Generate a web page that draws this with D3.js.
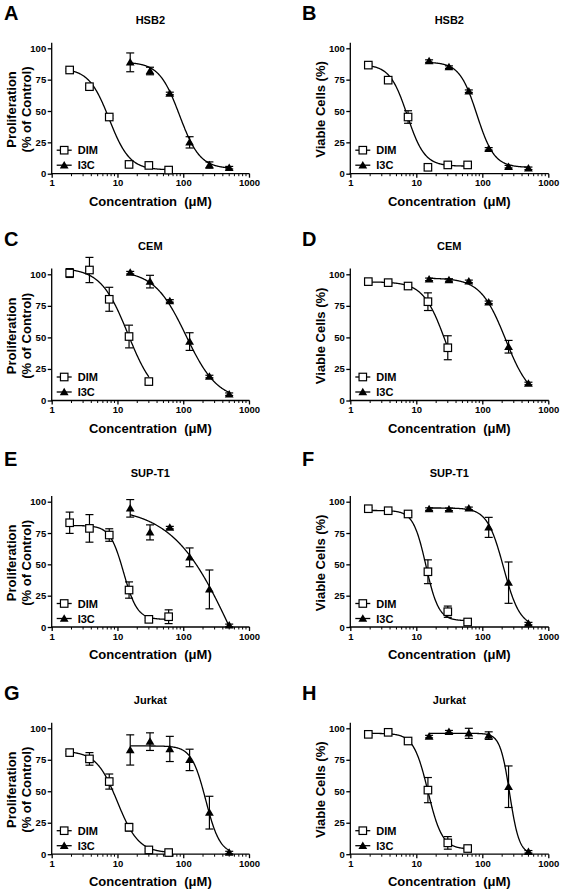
<!DOCTYPE html>
<html><head><meta charset="utf-8">
<script src="https://cdn.jsdelivr.net/npm/d3@7"></script>
<style>
body{margin:0;background:#fff}
svg text{font-family:"Liberation Sans",Arial,sans-serif;font-weight:bold;fill:#000;white-space:pre}
</style>
</head><body>
<svg id="chart" width="563" height="892"></svg>
<script>
// ---------------- DATA ----------------
const panelLetters = ["A","B","C","D","E","F","G","H"];
const cellLines = ["HSB2","HSB2","CEM","CEM","SUP-T1","SUP-T1","Jurkat","Jurkat"];
const yTitleProlif = ["Proliferation","(% of Control)"];
const yTitleViable = ["Viable Cells (%)"];
const xTitle = "Concentration  (\u03BCM)";
const seriesNames = ["DIM","I3C"];
const xTickValues = [1,10,100,1000];
const yTickValues = [0,25,50,75,100];

const concDIM = [1.875, 3.75, 7.5, 15, 30, 60];
const concI3C = [15.625, 31.25, 62.5, 125, 250, 500];

// DIM means / SD per panel
const dimA = [82.7, 69.4, 45.2, 7.4, 6.6, 2.9];   const dimAErr = [1, 1, 1, 1, 1, 1];
const dimB = [86.6, 74.6, 45.2, 5.1, 7.0, 7.0];   const dimBErr = [1, 1, 5, 1, 1, 1];
const dimC = [101, 103.4, 80.2, 50.7, 15.0];      const dimCErr = [3.5, 10, 9.5, 9, 2];
const dimD = [94.2, 93.4, 90.7, 78.3, 41.8];      const dimDErr = [1, 1, 1, 7, 9.5];
const dimE = [83.2, 78.7, 73.4, 29.5, 6.1, 8.2];  const dimEErr = [8.5, 11, 5, 6.5, 1, 5.5];
const dimF = [94.4, 92.8, 90.2, 44.1, 12.2, 4.0]; const dimFErr = [1, 1, 1, 9.5, 4.5, 1];
const dimG = [80.7, 75.7, 57.7, 21.4, 3.4, 1.3];  const dimGErr = [1, 5, 6, 3, 1, 1];
const dimH = [95.2, 96.8, 89.9, 50.9, 9.0, 4.5];  const dimHErr = [1, 1, 1, 10, 5, 1];

// I3C means / SD per panel
const i3cA = [88.8, 81.9, 64.0, 25.0, 6.9, 4.8];  const i3cAErr = [7.5, 3, 1, 4.5, 2.5, 1];
const i3cB = [89.8, 85.0, 65.8, 19.8, 5.6, 4.3];  const i3cBErr = [1, 1, 1, 1, 1, 1];
const i3cC = [101.3, 94.2, 78.9, 46.7, 19.0, 5.0];const i3cCErr = [1, 5, 1, 7, 1, 1];
const i3cD = [96.0, 95.5, 94.4, 77.8, 42.6, 13.5];const i3cDErr = [1, 1, 1, 1, 5, 1];
const i3cE = [94.7, 75.5, 79.3, 55.6, 30.0, 1.3]; const i3cEErr = [7, 6, 1, 7.5, 15.5, 1];
const i3cF = [94.1, 93.9, 94.7, 79.5, 35.4, 2.7]; const i3cFErr = [1, 1, 1, 8, 16.5, 1];
const i3cG = [82.8, 89.4, 83.6, 74.9, 33.0, 1.3]; const i3cGErr = [12, 7, 10, 8.5, 13, 1];
const i3cH = [93.4, 97.3, 96.0, 94.2, 53.6, 1.9]; const i3cHErr = [1, 1, 4, 3, 16.5, 1];

// Fitted dose-response curve parameters [top, bottom, IC50, hill]
const dimFit = [[84,3,7.5,2.8],[87,6,7.3,3.3],[105,0,14.5,2.1],[94,0,27.6,2.6],
                [81,6,12.4,4.2],[93,5,14,4.5],[82,1,10,2.7],[96,4,15,4]];
const i3cFit = [[89,4,88,2.8],[89,5,83,3.3],[103,0,110,1.8],[97,0,225,2.3],
                [96,-110,583,0.95],[95,0,210,3.5],[86,0,220,4],[96,0,260,6]];

const dimMeans = [dimA,dimB,dimC,dimD,dimE,dimF,dimG,dimH];
const dimErrs  = [dimAErr,dimBErr,dimCErr,dimDErr,dimEErr,dimFErr,dimGErr,dimHErr];
const i3cMeans = [i3cA,i3cB,i3cC,i3cD,i3cE,i3cF,i3cG,i3cH];
const i3cErrs  = [i3cAErr,i3cBErr,i3cCErr,i3cDErr,i3cEErr,i3cFErr,i3cGErr,i3cHErr];

// ---------------- LAYOUT ----------------
const colX0 = [51.7, 350.3], colX1 = [249, 548.3];
const rowY100 = [48.3, 274.3, 501.7, 728.3], rowY0 = [173.7, 400.5, 627, 854.2];
const letterY = [20, 246, 466, 700];
const letterX = [4, 302];

const svg = d3.select("#chart");
const logistic = (p, c) => p[1] + (p[0]-p[1]) / (1 + Math.pow(c/p[2], p[3]));

for (let i = 0; i < 8; i++) {
  const col = i % 2, row = Math.floor(i/2);
  const x = d3.scaleLog().domain([1,1000]).range([colX0[col], colX1[col]]);
  const y = d3.scaleLinear().domain([0,100]).range([rowY0[row], rowY100[row]]);
  const g = svg.append("g");
  const sw = 1.3;

  // panel letter & title
  g.append("text").attr("x", letterX[col]).attr("y", letterY[row])
    .style("font-size","20px").text(panelLetters[i]);
  g.append("text").attr("x", (x.range()[0]+x.range()[1])/2).attr("y", rowY100[row]-24.5)
    .attr("text-anchor","middle").style("font-size","11px").text(cellLines[i]);

  // y axis
  const ya = g.append("g").attr("transform",`translate(${x(1)},0)`)
    .call(d3.axisLeft(y).tickValues(yTickValues).tickSize(4).tickPadding(1.5));
  ya.select(".domain").remove();
  ya.selectAll(".tick line").attr("stroke","#000").attr("stroke-width",sw);
  ya.selectAll(".tick text").style("font-size","9.5px").style("font-family","'Liberation Sans',Arial,sans-serif").style("font-weight","bold");
  g.append("line").attr("x1",x(1)).attr("x2",x(1)).attr("y1",y(0)+sw/2).attr("y2",y(104.5))
    .attr("stroke","#000").attr("stroke-width",sw);

  // x axis
  const xa = g.append("g").attr("transform",`translate(0,${y(0)})`)
    .call(d3.axisBottom(x).tickValues(xTickValues).tickFormat(d3.format("d")).tickSize(4).tickPadding(2));
  xa.select(".domain").remove();
  xa.selectAll(".tick line").attr("stroke","#000").attr("stroke-width",sw);
  xa.selectAll(".tick text").style("font-size","9.5px").style("font-family","'Liberation Sans',Arial,sans-serif").style("font-weight","bold");
  const minor = [];
  [1,10,100].forEach(d => { for (let k=2;k<=9;k++) minor.push(d*k); });
  g.selectAll(null).data(minor).enter().append("line")
    .attr("x1",d=>x(d)).attr("x2",d=>x(d)).attr("y1",y(0)).attr("y2",y(0)+2.5)
    .attr("stroke","#000").attr("stroke-width",1);
  g.append("line").attr("x1",x(1)-sw/2).attr("x2",x(1000)+0.5).attr("y1",y(0)).attr("y2",y(0))
    .attr("stroke","#000").attr("stroke-width",sw);

  // axis titles
  const cx = (x.range()[0]+x.range()[1])/2;
  g.append("text").attr("x",cx).attr("y",y(0)+32).attr("text-anchor","middle")
    .attr("xml:space","preserve").style("font-size","13px").text(xTitle);
  const cy = (y(0)+y(104))/2 + 1;
  if (col === 0) {
    yTitleProlif.forEach((t,k) => {
      g.append("text").attr("transform",`translate(${x(1)-36+k*15.5},${cy}) rotate(-90)`)
        .attr("text-anchor","middle").style("font-size","13px").text(t);
    });
  } else {
    g.append("text").attr("transform",`translate(${x(1)-25.5},${cy}) rotate(-90)`)
      .attr("text-anchor","middle").style("font-size","13px").text(yTitleViable[0]);
  }

  // curves
  const line = d3.line().x(d=>x(d[0])).y(d=>y(Math.max(0,d[1])));
  const drawCurve = (conc, fit) => {
    const c0 = conc[0], c1 = conc[conc.length-1];
    const pts = d3.range(0,241).map(k => { const c = c0*Math.pow(c1/c0,k/240); return [c, logistic(fit,c)]; });
    g.append("path").attr("d", line(pts)).attr("fill","none").attr("stroke","#000").attr("stroke-width",1.3);
  };
  const dConc = concDIM.slice(0, dimMeans[i].length);
  drawCurve(dConc, dimFit[i]);
  drawCurve(concI3C, i3cFit[i]);

  // error bars
  const drawErr = (conc, means, errs) => {
    means.forEach((m,k) => {
      const e = errs[k]; if (e <= 0) return;
      const px = x(conc[k]);
      g.append("line").attr("x1",px).attr("x2",px).attr("y1",y(m-e)).attr("y2",y(m+e)).attr("stroke","#000").attr("stroke-width",1.2);
      [m-e, m+e].forEach(v => g.append("line").attr("x1",px-4).attr("x2",px+4).attr("y1",y(v)).attr("y2",y(v)).attr("stroke","#000").attr("stroke-width",1.2));
    });
  };
  drawErr(dConc, dimMeans[i], dimErrs[i]);
  drawErr(concI3C, i3cMeans[i], i3cErrs[i]);

  // markers
  const sq = 7.5;
  const square = (sel, px, py) => sel.append("rect").attr("x",px-sq/2).attr("y",py-sq/2).attr("width",sq).attr("height",sq)
      .attr("fill","#fff").attr("stroke","#000").attr("stroke-width",1.2);
  const tri = (sel, px, py) => sel.append("path")
      .attr("d",`M${px},${py-4.3}L${px+4.4},${py+3.2}L${px-4.4},${py+3.2}Z`).attr("fill","#000");
  dimMeans[i].forEach((m,k) => square(g, x(dConc[k]), y(m)));
  i3cMeans[i].forEach((m,k) => tri(g, x(concI3C[k]), y(m)));

  // legend
  const lx = x(1);
  const rows = [y(0)-23.5, y(0)-8.5];
  rows.forEach((ly,k) => {
    g.append("line").attr("x1",lx+5).attr("x2",lx+20).attr("y1",ly).attr("y2",ly).attr("stroke","#000").attr("stroke-width",1.3);
    if (k===0) square(g, lx+12.5, ly); else tri(g, lx+12.5, ly);
    g.append("text").attr("x",lx+26).attr("y",ly+4).style("font-size","11px").text(seriesNames[k]);
  });
}
</script>
</body></html>
